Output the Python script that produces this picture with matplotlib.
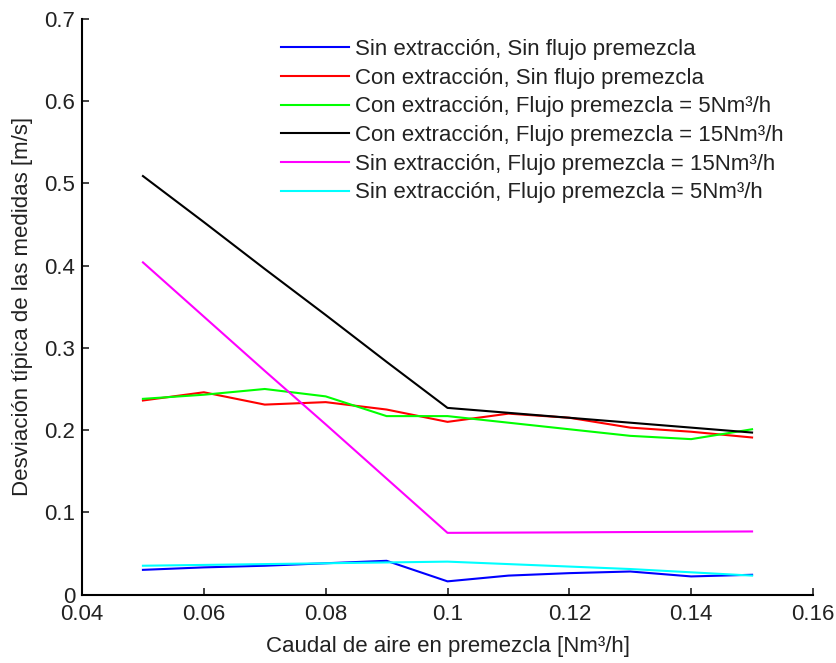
import matplotlib
matplotlib.use("Agg")
import matplotlib.pyplot as plt

plt.rcParams['font.family'] = ['Liberation Sans', 'DejaVu Sans']

caudal = [0.05, 0.06, 0.07, 0.08, 0.09, 0.10, 0.11, 0.12, 0.13, 0.14, 0.15]

sin_ext_sin_flujo = [0.030, 0.033, 0.035, 0.038, 0.041, 0.016, 0.023, 0.026, 0.028, 0.022, 0.024]
con_ext_sin_flujo = [0.236, 0.246, 0.231, 0.234, 0.225, 0.210, 0.220, 0.215, 0.203, 0.198, 0.191]
con_ext_5 = [0.238, 0.243, 0.250, 0.241, 0.217, 0.217, 0.209, 0.201, 0.193, 0.189, 0.201]
con_ext_15 = [0.509, 0.453, 0.396, 0.340, 0.283, 0.227, 0.221, 0.215, 0.209, 0.203, 0.197]
sin_ext_15 = [0.404, 0.338, 0.272, 0.207, 0.141, 0.075, 0.0753, 0.0756, 0.076, 0.0763, 0.0767]
sin_ext_5 = [0.035, 0.036, 0.037, 0.038, 0.039, 0.040, 0.037, 0.034, 0.031, 0.027, 0.023]

labels = [
    'Sin extracción, Sin flujo premezcla',
    'Con extracción, Sin flujo premezcla',
    'Con extracción, Flujo premezcla = 5Nm³/h',
    'Con extracción, Flujo premezcla = 15Nm³/h',
    'Sin extracción, Flujo premezcla = 15Nm³/h',
    'Sin extracción, Flujo premezcla = 5Nm³/h',
]
series = [sin_ext_sin_flujo, con_ext_sin_flujo, con_ext_5, con_ext_15, sin_ext_15, sin_ext_5]
colors = ['#0000ff', '#ff0000', '#00ff00', '#000000', '#ff00ff', '#00ffff']

fig = plt.figure(figsize=(8.37, 6.63), dpi=100)
ax = fig.add_axes([0.098, 0.1033, 0.8733, 0.868])

for vals, lab, col in zip(series, labels, colors):
    ax.plot(caudal, vals, color=col, lw=1.5, label=lab)

ax.set_xlim(0.04, 0.16)
ax.set_ylim(0, 0.7)
ax.set_xticks([0.04, 0.06, 0.08, 0.1, 0.12, 0.14, 0.16])
ax.set_xticklabels(['0.04', '0.06', '0.08', '0.1', '0.12', '0.14', '0.16'])
ax.set_yticks([0, 0.1, 0.2, 0.3, 0.4, 0.5, 0.6, 0.7])
ax.set_yticklabels(['0', '0.1', '0.2', '0.3', '0.4', '0.5', '0.6', '0.7'])
ax.tick_params(direction='in', length=5, labelsize=16, width=1.2, colors='#222222')
ax.tick_params(axis='x', pad=7)
ax.tick_params(axis='y', pad=5)
ax.spines['top'].set_visible(False)
ax.spines['right'].set_visible(False)
ax.spines['left'].set_linewidth(1.5)
ax.spines['bottom'].set_linewidth(1.5)

ax.set_xlabel('Caudal de aire en premezcla [Nm³/h]', fontsize=16, labelpad=8,
              color='#222222')
ax.set_ylabel('Desviación típica de las medidas [m/s]', fontsize=16, labelpad=8,
              color='#222222')

leg = ax.legend(loc='upper left', bbox_to_anchor=(281 / 837, 1 - 39 / 663),
                bbox_transform=fig.transFigure, frameon=False, fontsize=16,
                handlelength=3.05, labelspacing=0.345, handletextpad=0.27,
                borderpad=0, borderaxespad=0)
for t in leg.get_texts():
    t.set_color('#222222')

fig.savefig('out.png', dpi=100)
